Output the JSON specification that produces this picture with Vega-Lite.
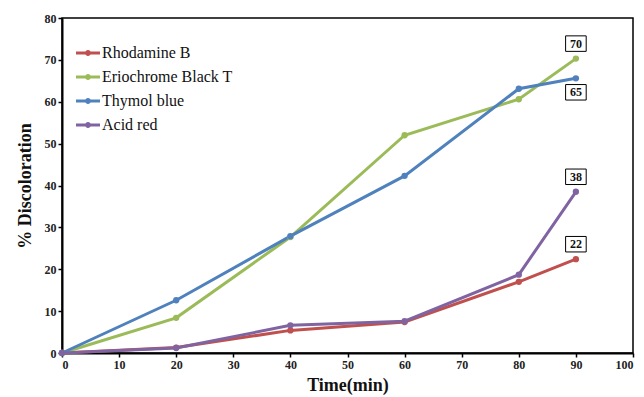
{
  "$schema": "https://vega.github.io/schema/vega-lite/v6.json",
  "width": 571,
  "height": 335,
  "autosize": {"type": "none"},
  "padding": {"left": 62, "top": 18, "right": 11, "bottom": 44},
  "background": "white",
  "config": {
    "view": {"stroke": "black", "strokeWidth": 1.5},
    "font": "Times New Roman",
    "axis": {
      "grid": false,
      "domainColor": "black",
      "domainWidth": 2,
      "tickColor": "black",
      "tickWidth": 1.5,
      "tickSize": 4,
      "labelFont": "Times New Roman",
      "labelFontWeight": "bold",
      "labelFontSize": 12,
      "labelColor": "#222",
      "titleFont": "Times New Roman",
      "titleFontWeight": "bold",
      "titleFontSize": 18,
      "titleColor": "#111"
    },
    "legend": {"labelFont": "Times New Roman"},
    "text": {"font": "Times New Roman"}
  },
  "datasets": {
    "series": [
      {"dye": "Rhodamine B", "time": 0, "value": 0},
      {"dye": "Rhodamine B", "time": 20, "value": 1.3},
      {"dye": "Rhodamine B", "time": 40, "value": 5.4},
      {"dye": "Rhodamine B", "time": 60, "value": 7.4},
      {"dye": "Rhodamine B", "time": 80, "value": 17},
      {"dye": "Rhodamine B", "time": 90, "value": 22.4},
      {"dye": "Eriochrome Black T", "time": 0, "value": 0},
      {"dye": "Eriochrome Black T", "time": 20, "value": 8.4},
      {"dye": "Eriochrome Black T", "time": 40, "value": 27.7},
      {"dye": "Eriochrome Black T", "time": 60, "value": 52},
      {"dye": "Eriochrome Black T", "time": 80, "value": 60.6},
      {"dye": "Eriochrome Black T", "time": 90, "value": 70.3},
      {"dye": "Thymol blue", "time": 0, "value": 0},
      {"dye": "Thymol blue", "time": 20, "value": 12.6},
      {"dye": "Thymol blue", "time": 40, "value": 27.9},
      {"dye": "Thymol blue", "time": 60, "value": 42.3},
      {"dye": "Thymol blue", "time": 80, "value": 63.1},
      {"dye": "Thymol blue", "time": 90, "value": 65.6},
      {"dye": "Acid red", "time": 0, "value": 0},
      {"dye": "Acid red", "time": 20, "value": 1.2},
      {"dye": "Acid red", "time": 40, "value": 6.6},
      {"dye": "Acid red", "time": 60, "value": 7.6},
      {"dye": "Acid red", "time": 80, "value": 18.7},
      {"dye": "Acid red", "time": 90, "value": 38.5}
    ],
    "labels": [
      {"dye": "Eriochrome Black T", "time": 90, "value": 70.3, "label": "70"},
      {"dye": "Thymol blue", "time": 90, "value": 65.6, "label": "65"},
      {"dye": "Acid red", "time": 90, "value": 38.5, "label": "38"},
      {"dye": "Rhodamine B", "time": 90, "value": 22.4, "label": "22"}
    ]
  },
  "layer": [
    {
      "data": {"name": "series"},
      "mark": {"type": "line", "strokeWidth": 3, "point": {"filled": true, "size": 40}},
      "encoding": {
        "x": {
          "field": "time", "type": "quantitative",
          "scale": {"domain": [0, 100], "nice": false},
          "axis": {"values": [0,10,20,30,40,50,60,70,80,90,100], "title": "Time(min)", "titlePadding": 6, "labelFont": "Liberation Serif", "labelFontWeight": "bold", "titleFont": "Liberation Serif"}
        },
        "y": {
          "field": "value", "type": "quantitative",
          "scale": {"domain": [0, 80], "nice": false},
          "axis": {"values": [0,10,20,30,40,50,60,70,80], "title": "% Discoloration", "titlePadding": 10, "labelFont": "Liberation Serif", "labelFontWeight": "bold", "titleFont": "Liberation Serif"}
        },
        "color": {
          "field": "dye", "type": "nominal",
          "scale": {
            "domain": ["Rhodamine B", "Eriochrome Black T", "Thymol blue", "Acid red"],
            "range": ["#C0504D", "#9BBB59", "#4F81BD", "#8064A2"]
          },
          "legend": {
            "title": null,
            "orient": "none",
            "legendX": 14,
            "legendY": 23,
            "labelFont": "Times New Roman",
            "labelFontSize": 16,
            "labelColor": "#111",
            "symbolType": "M-1,-0.12L1,-0.12L1,0.12L-1,0.12Z M-0.25,0A0.25,0.25 0 1,1 0.25,0A0.25,0.25 0 1,1 -0.25,0Z",
            "symbolSize": 576,
            "symbolStrokeWidth": 0,
            "rowPadding": 4,
            "labelOffset": 2,
            "encode": {
              "symbols": {"update": {"fill": {"scale": "color", "field": "value"}, "fillOpacity": {"value": 1}, "strokeWidth": {"value": 0}}}
            }
          }
        },
        "order": {"field": "time", "type": "quantitative"}
      }
    },
    {
      "data": {"name": "labels"},
      "transform": [{"filter": "datum.label != '65'"}],
      "mark": {"type": "point", "shape": "M-1.33,-1L1.33,-1L1.33,1L-1.33,1Z", "size": 240, "filled": false, "fill": "white", "fillOpacity": 1, "stroke": "black", "strokeWidth": 1, "yOffset": -15},
      "encoding": {
        "x": {"field": "time", "type": "quantitative"},
        "y": {"field": "value", "type": "quantitative"}
      }
    },
    {
      "data": {"name": "labels"},
      "transform": [{"filter": "datum.label == '65'"}],
      "mark": {"type": "point", "shape": "M-1.33,-1L1.33,-1L1.33,1L-1.33,1Z", "size": 240, "filled": false, "fill": "white", "fillOpacity": 1, "stroke": "black", "strokeWidth": 1, "yOffset": 14},
      "encoding": {
        "x": {"field": "time", "type": "quantitative"},
        "y": {"field": "value", "type": "quantitative"}
      }
    },
    {
      "data": {"name": "labels"},
      "transform": [{"filter": "datum.label != '65'"}],
      "mark": {"type": "text", "font": "Times New Roman", "fontWeight": "bold", "fontSize": 12, "color": "#111", "dy": -15, "baseline": "middle"},
      "encoding": {
        "x": {"field": "time", "type": "quantitative"},
        "y": {"field": "value", "type": "quantitative"},
        "text": {"field": "label"}
      }
    },
    {
      "data": {"name": "labels"},
      "transform": [{"filter": "datum.label == '65'"}],
      "mark": {"type": "text", "font": "Times New Roman", "fontWeight": "bold", "fontSize": 12, "color": "#111", "dy": 14, "baseline": "middle"},
      "encoding": {
        "x": {"field": "time", "type": "quantitative"},
        "y": {"field": "value", "type": "quantitative"},
        "text": {"field": "label"}
      }
    }
  ]
}
